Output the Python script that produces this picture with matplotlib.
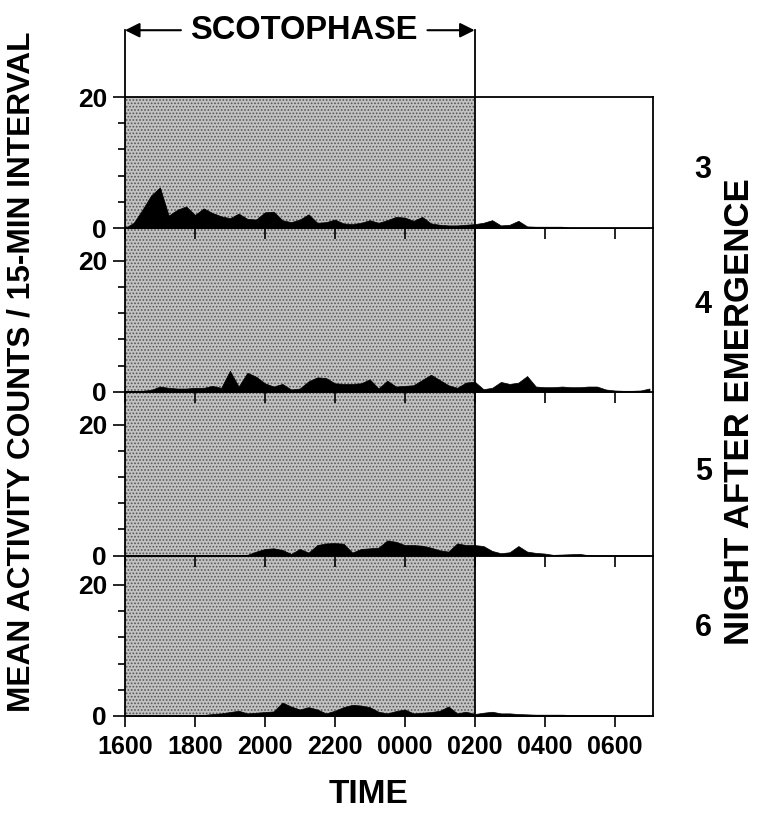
import numpy as np
import matplotlib
matplotlib.use("Agg")
import matplotlib.pyplot as plt

plt.rcParams['font.family'] = ['Liberation Sans', 'DejaVu Sans']
plt.rcParams['font.weight'] = 'bold'
plt.rcParams['hatch.linewidth'] = 0.8

# hours after 1600, one point per 15-min interval (1600 -> 0700)
hours = np.arange(61) * 0.25

night3 = [0, 0.8, 2.8, 5.0, 6.2, 1.9, 2.8, 3.3, 2.0, 3.0,
          2.3, 1.8, 1.5, 2.2, 1.4, 1.3, 2.4, 2.5, 1.2, 0.9,
          1.3, 2.1, 0.8, 0.9, 1.3, 0.7, 0.6, 0.8, 1.2, 0.8,
          1.2, 1.7, 1.6, 1.1, 1.7, 0.7, 0.5, 0.4, 0.4, 0.5,
          0.6, 0.8, 1.2, 0.4, 0.5, 1.1, 0.25, 0.2, 0.2, 0.2,
          0.2, 0, 0, 0, 0, 0, 0, 0, 0, 0, 0]
night4 = [0.1, 0.1, 0.15, 0.3, 0.8, 0.6, 0.5, 0.5, 0.6, 0.6,
          0.9, 0.6, 3.2, 0.8, 2.9, 2.3, 1.3, 0.8, 1.2, 0.35,
          0.5, 1.6, 2.2, 2.1, 1.3, 1.2, 1.2, 1.3, 1.9, 0.5,
          1.7, 0.8, 0.9, 1.0, 1.8, 2.6, 1.8, 1.0, 0.6, 1.4,
          1.55, 0.4, 0.6, 1.5, 1.2, 1.4, 2.4, 0.8, 0.7, 0.7,
          0.8, 0.7, 0.7, 0.8, 0.8, 0.35, 0.2, 0.15, 0.15, 0.2, 0.5]
night5 = [0, 0, 0, 0, 0, 0, 0, 0, 0, 0,
          0, 0, 0, 0, 0.1, 0.6, 1.0, 1.1, 0.85, 0.25,
          1.0, 0.45, 1.6, 1.85, 1.9, 1.8, 0.45, 1.0, 1.1, 1.2,
          2.3, 2.1, 1.6, 1.6, 1.5, 1.2, 0.8, 0.6, 1.85, 1.6,
          1.6, 1.45, 0.7, 0.35, 0.5, 1.45, 0.6, 0.4, 0.3, 0.1,
          0.15, 0.2, 0.25, 0.05, 0, 0, 0, 0, 0, 0, 0]
night6 = [0.1, 0.1, 0.1, 0.1, 0.1, 0.1, 0.1, 0.1, 0.1, 0.15,
          0.3, 0.4, 0.6, 0.8, 0.4, 0.5, 0.6, 0.7, 2.05, 1.45,
          1.0, 1.35, 1.0, 0.4, 0.8, 1.35, 1.7, 1.6, 1.35, 0.65,
          0.4, 0.75, 1.0, 0.4, 0.5, 0.6, 0.8, 1.45, 0.4, 0.65,
          0.3, 0.5, 0.65, 0.4, 0.4, 0.3, 0.25, 0.2, 0.2, 0.2,
          0.2, 0.15, 0.15, 0.15, 0.15, 0.15, 0.1, 0.1, 0.1, 0.1, 0.1]

nights = ['3', '4', '5', '6']
series = [night3, night4, night5, night6]
ytops = [20, 25, 25, 24.5]
night_label_y = [0.44, 0.53, 0.51, 0.55]

xtick_pos = [0, 2, 4, 6, 8, 10, 12, 14]
xtick_labels = ['1600', '1800', '2000', '2200', '0000', '0200', '0400', '0600']
scoto_end = 10  # 0200

fig = plt.figure(figsize=(7.57, 8.14), dpi=100)
gs = fig.add_gridspec(4, 1, height_ratios=ytops, hspace=0,
                      left=0.1651, right=0.8626, top=0.8808, bottom=0.1204)

axes = []
for k in range(4):
    ax = fig.add_subplot(gs[k])
    ax.set_zorder(10 - k)
    ax.patch.set_alpha(0)
    ax.axvspan(0, scoto_end, facecolor='#c2c2c2', edgecolor='#555555',
               hatch='.....', lw=0, zorder=0)
    ax.fill_between(hours, 0, series[k], color='black', lw=0.5, zorder=2)
    ax.axvline(scoto_end, color='black', lw=1.3, zorder=3)
    ax.set_xlim(0, 15.1)
    ax.set_ylim(0, ytops[k])
    ax.set_yticks([0, 20])
    ax.set_yticks([4, 8, 12, 16], minor=True)
    ax.set_xticks(xtick_pos)
    ax.tick_params(axis='y', which='major', length=9, width=1.2, pad=4, labelsize=19)
    ax.tick_params(axis='y', which='minor', length=5, width=1.2)
    ax.tick_params(axis='x', length=8, width=1.2, pad=6, labelsize=18)
    if k < 3:
        ax.set_xticklabels([])
    else:
        ax.set_xticklabels(xtick_labels)
    for s in ax.spines.values():
        s.set_linewidth(1.3)
    if k > 0:
        ax.spines['top'].set_visible(False)
    ax.text(1.095, night_label_y[k], nights[k], transform=ax.transAxes,
            ha='center', va='center', fontsize=22, fontweight='bold')
    axes.append(ax)

# scotophase bracket above the first panel
ax1 = axes[0]
ybr = 30.2
ax1.plot([0, 0], [20, ybr], color='black', lw=1.3, clip_on=False)
ax1.plot([scoto_end, scoto_end], [20, ybr], color='black', lw=1.3, clip_on=False)
arrow = dict(arrowstyle='-|>', color='black', lw=1.5, mutation_scale=22,
             shrinkA=0, shrinkB=0)
ax1.annotate('', xy=(0, ybr), xytext=(1.6, ybr), arrowprops=arrow,
             annotation_clip=False)
ax1.annotate('', xy=(scoto_end, ybr), xytext=(8.65, ybr), arrowprops=arrow,
             annotation_clip=False)
ax1.text(5.1, ybr, 'SCOTOPHASE', ha='center', va='center', fontsize=23.5,
         fontweight='bold')

fig.text(0.029, 0.543, 'MEAN ACTIVITY COUNTS / 15-MIN INTERVAL', rotation=90,
         ha='center', va='center', fontsize=22.8, fontweight='bold')
fig.text(0.977, 0.494, 'NIGHT AFTER EMERGENCE', rotation=90,
         ha='center', va='center', fontsize=25, fontweight='bold')
fig.text(0.487, 0.013, 'TIME', ha='center', va='baseline', fontsize=24,
         fontweight='bold')

fig.savefig('out.png', dpi=100)
